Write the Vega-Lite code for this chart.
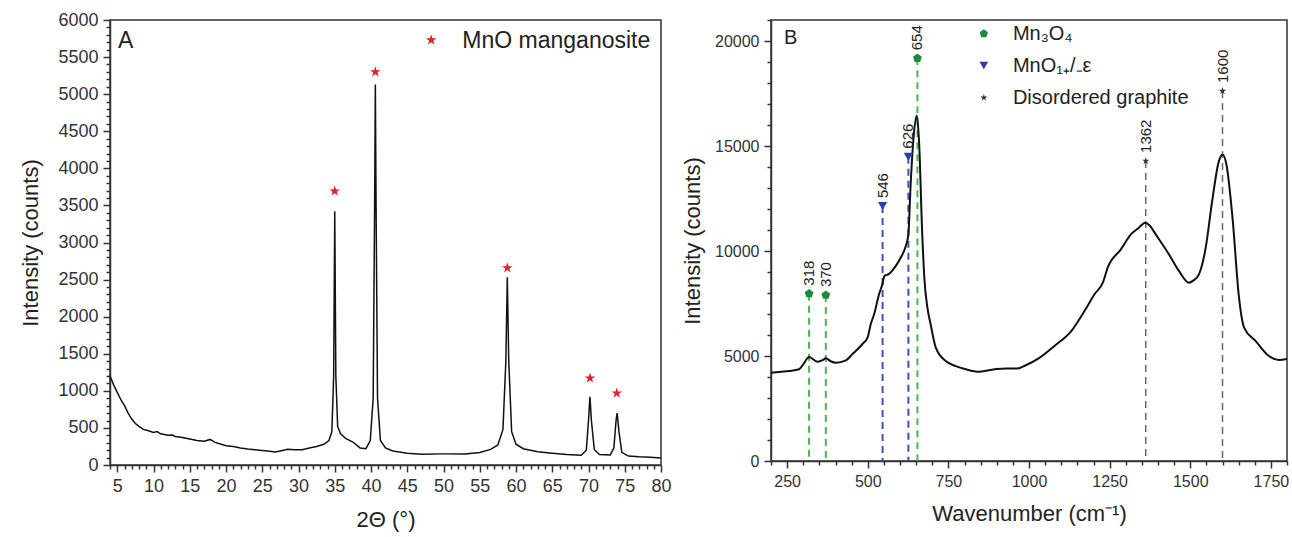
{
  "$schema": "https://vega.github.io/schema/vega-lite/v6.json",
  "background": "white",
  "padding": {"left": 19, "top": 10, "right": 4, "bottom": 5},
  "spacing": 8,
  "config": {
    "font": "Liberation Sans",
    "view": {"stroke": "#333", "strokeWidth": 1.5},
    "axis": {"grid": false, "domainColor": "#333", "domainWidth": 1.5, "tickColor": "#333", "tickWidth": 1.5, "labelColor": "#333", "titleColor": "#222", "titleFontWeight": "normal", "labelOverlap": false, "labelFlush": false}
  },
  "datasets": {
    "xrd": [
      {"t": 4.0, "i": 1200}, {"t": 4.5, "i": 1080}, {"t": 5.0, "i": 980}, {"t": 5.5, "i": 880}, {"t": 6.0, "i": 800}, {"t": 6.5, "i": 700}, {"t": 7.0, "i": 620}, {"t": 7.5, "i": 560}, {"t": 8.0, "i": 520}, {"t": 8.6, "i": 480}, {"t": 9.2, "i": 465}, {"t": 10.0, "i": 440}, {"t": 10.5, "i": 450}, {"t": 11.0, "i": 420}, {"t": 12.0, "i": 400}, {"t": 12.6, "i": 405}, {"t": 13.0, "i": 385}, {"t": 14.0, "i": 370}, {"t": 15.0, "i": 350}, {"t": 16.0, "i": 330}, {"t": 17.0, "i": 320}, {"t": 17.8, "i": 345}, {"t": 18.5, "i": 305}, {"t": 19.0, "i": 290}, {"t": 20.0, "i": 260}, {"t": 21.0, "i": 250}, {"t": 22.0, "i": 230}, {"t": 23.0, "i": 215}, {"t": 24.0, "i": 205}, {"t": 25.0, "i": 195}, {"t": 26.0, "i": 185}, {"t": 26.8, "i": 175}, {"t": 27.5, "i": 190}, {"t": 28.5, "i": 212}, {"t": 29.5, "i": 205}, {"t": 30.5, "i": 205}, {"t": 31.5, "i": 230}, {"t": 32.5, "i": 250}, {"t": 33.5, "i": 280}, {"t": 34.2, "i": 330}, {"t": 34.6, "i": 450}, {"t": 34.85, "i": 1200}, {"t": 35.0, "i": 3420}, {"t": 35.15, "i": 1200}, {"t": 35.4, "i": 520}, {"t": 35.8, "i": 420}, {"t": 36.5, "i": 360}, {"t": 37.5, "i": 310}, {"t": 38.5, "i": 230}, {"t": 39.3, "i": 220}, {"t": 39.9, "i": 330}, {"t": 40.3, "i": 900}, {"t": 40.5, "i": 3500}, {"t": 40.6, "i": 5130}, {"t": 40.7, "i": 3500}, {"t": 40.9, "i": 900}, {"t": 41.3, "i": 330}, {"t": 42.0, "i": 230}, {"t": 43.0, "i": 190}, {"t": 45.0, "i": 160}, {"t": 47.0, "i": 145}, {"t": 50.0, "i": 150}, {"t": 53.0, "i": 150}, {"t": 55.0, "i": 170}, {"t": 56.5, "i": 210}, {"t": 57.5, "i": 270}, {"t": 58.2, "i": 480}, {"t": 58.6, "i": 1400}, {"t": 58.8, "i": 2530}, {"t": 59.0, "i": 1400}, {"t": 59.4, "i": 450}, {"t": 60.0, "i": 280}, {"t": 61.0, "i": 220}, {"t": 63.0, "i": 180}, {"t": 65.0, "i": 160}, {"t": 67.0, "i": 140}, {"t": 69.0, "i": 130}, {"t": 69.7, "i": 200}, {"t": 70.0, "i": 600}, {"t": 70.2, "i": 920}, {"t": 70.4, "i": 600}, {"t": 70.8, "i": 210}, {"t": 71.5, "i": 140}, {"t": 73.0, "i": 135}, {"t": 73.5, "i": 230}, {"t": 73.8, "i": 600}, {"t": 73.95, "i": 700}, {"t": 74.2, "i": 450}, {"t": 74.6, "i": 170}, {"t": 75.5, "i": 120}, {"t": 77.0, "i": 110}, {"t": 78.5, "i": 105}, {"t": 80.0, "i": 95}
    ],
    "xrdStars": [
      {"t": 35.0, "i": 3693}, {"t": 40.6, "i": 5300}, {"t": 58.8, "i": 2658}, {"t": 70.2, "i": 1171}, {"t": 73.9, "i": 969}, {"t": 48.3, "i": 5730}
    ],
    "xrdText": [
      {"t": 5.1, "i": 5720, "label": "A"},
      {"t": 52.6, "i": 5720, "label": "MnO manganosite"}
    ],
    "raman": [
      {"w": 200, "y": 4200}, {"w": 230, "y": 4250}, {"w": 256, "y": 4290}, {"w": 287, "y": 4370}, {"w": 300, "y": 4600}, {"w": 318, "y": 4950}, {"w": 330, "y": 4850}, {"w": 344, "y": 4730}, {"w": 360, "y": 4800}, {"w": 370, "y": 4890}, {"w": 385, "y": 4750}, {"w": 401, "y": 4680}, {"w": 432, "y": 4790}, {"w": 452, "y": 5080}, {"w": 483, "y": 5560}, {"w": 500, "y": 5900}, {"w": 509, "y": 6500}, {"w": 520, "y": 7000}, {"w": 535, "y": 7940}, {"w": 545, "y": 8400}, {"w": 552, "y": 8810}, {"w": 565, "y": 8900}, {"w": 587, "y": 9290}, {"w": 602, "y": 9680}, {"w": 618, "y": 10240}, {"w": 626, "y": 10790}, {"w": 633, "y": 13170}, {"w": 643, "y": 15560}, {"w": 652, "y": 16450}, {"w": 659, "y": 15240}, {"w": 669, "y": 10790}, {"w": 676, "y": 8600}, {"w": 685, "y": 7300}, {"w": 695, "y": 6510}, {"w": 711, "y": 5400}, {"w": 742, "y": 4760}, {"w": 773, "y": 4520}, {"w": 804, "y": 4370}, {"w": 845, "y": 4250}, {"w": 876, "y": 4320}, {"w": 900, "y": 4380}, {"w": 928, "y": 4410}, {"w": 964, "y": 4400}, {"w": 990, "y": 4560}, {"w": 1031, "y": 4900}, {"w": 1079, "y": 5480}, {"w": 1131, "y": 6190}, {"w": 1172, "y": 7140}, {"w": 1203, "y": 7940}, {"w": 1229, "y": 8490}, {"w": 1244, "y": 9210}, {"w": 1285, "y": 10080}, {"w": 1316, "y": 10790}, {"w": 1340, "y": 11100}, {"w": 1360, "y": 11350}, {"w": 1375, "y": 11200}, {"w": 1393, "y": 10790}, {"w": 1434, "y": 9840}, {"w": 1465, "y": 9050}, {"w": 1496, "y": 8490}, {"w": 1510, "y": 8600}, {"w": 1527, "y": 8890}, {"w": 1548, "y": 10160}, {"w": 1568, "y": 12380}, {"w": 1589, "y": 14290}, {"w": 1600, "y": 14600}, {"w": 1612, "y": 14130}, {"w": 1631, "y": 11590}, {"w": 1651, "y": 7800}, {"w": 1667, "y": 6350}, {"w": 1703, "y": 5710}, {"w": 1744, "y": 5000}, {"w": 1775, "y": 4810}, {"w": 1800, "y": 4860}
    ],
    "mn3o4": [{"w": 318, "y": 7970}, {"w": 370, "y": 7900}, {"w": 654, "y": 19180}],
    "mno": [{"w": 546, "y": 12140}, {"w": 626, "y": 14490}],
    "graphite": [{"w": 1362, "y": 14290}, {"w": 1600, "y": 17620}],
    "peakLabels": [{"w": 318, "y": 7970}, {"w": 370, "y": 7900}, {"w": 654, "y": 19180}, {"w": 546, "y": 12140}, {"w": 626, "y": 14490}, {"w": 1362, "y": 14290}, {"w": 1600, "y": 17620}],
    "legMn3o4": [{"w": 860, "y": 20350}],
    "legMno": [{"w": 860, "y": 18830}],
    "legGraphite": [{"w": 860, "y": 17300}],
    "legText": [
      {"w": 950, "y": 20350, "label": "Mn₃O₄"},
      {"w": 950, "y": 18830, "label": "MnO₁₊/₋ε"},
      {"w": 950, "y": 17300, "label": "Disordered graphite"},
      {"w": 240, "y": 20150, "label": "B"}
    ]
  },
  "hconcat": [
    {
      "width": 551,
      "height": 445,
      "encoding": {
        "x": {"field": "t", "type": "quantitative", "scale": {"domain": [4, 80], "nice": false, "zero": false},
              "axis": {"values": [4,5,6,7,8,9,10,11,12,13,14,15,16,17,18,19,20,21,22,23,24,25,26,27,28,29,30,31,32,33,34,35,36,37,38,39,40,41,42,43,44,45,46,47,48,49,50,51,52,53,54,55,56,57,58,59,60,61,62,63,64,65,66,67,68,69,70,71,72,73,74,75,76,77,78,79,80],
                       "labelExpr": "datum.value % 5 === 0 ? datum.label : ''",
                       "labelOverlap": false,
                       "tickSize": {"condition": {"test": "datum.value % 5 === 0", "value": 7}, "value": 4},
                       "labelFontSize": 18, "labelPadding": 5, "title": "2Θ (°)", "titleFontSize": 22, "titlePadding": 14}},
        "y": {"field": "i", "type": "quantitative", "scale": {"domain": [0, 6000], "nice": false},
              "axis": {"values": [0,100,200,300,400,500,600,700,800,900,1000,1100,1200,1300,1400,1500,1600,1700,1800,1900,2000,2100,2200,2300,2400,2500,2600,2700,2800,2900,3000,3100,3200,3300,3400,3500,3600,3700,3800,3900,4000,4100,4200,4300,4400,4500,4600,4700,4800,4900,5000,5100,5200,5300,5400,5500,5600,5700,5800,5900,6000],
                       "labelExpr": "datum.value % 500 === 0 ? datum.label : ''",
                       "labelOverlap": false,
                       "format": "d",
                       "tickSize": {"condition": {"test": "datum.value % 500 === 0", "value": 7}, "value": 4},
                       "labelFontSize": 18, "labelPadding": 5, "title": "Intensity (counts)", "titleFontSize": 22, "titlePadding": 15}}
      },
      "layer": [
        {
          "data": {"name": "xrd"},
          "mark": {"type": "line", "color": "#111", "strokeWidth": 1.5},
          "encoding": {}
        },
        {
          "data": {"name": "xrdStars"},
          "mark": {"type": "point", "filled": true, "opacity": 1, "size": 125, "shape": "M0,-1L0.225,-0.309L0.951,-0.309L0.363,0.118L0.588,0.809L0,0.382L-0.588,0.809L-0.363,0.118L-0.951,-0.309L-0.225,-0.309Z", "color": "#e3202a"},
          "encoding": {}
        },
        {
          "data": {"name": "xrdText"},
          "mark": {"type": "text", "fontSize": 23, "align": "left", "baseline": "middle", "color": "#222"},
          "encoding": {"text": {"field": "label", "type": "nominal"}}
        }
      ]
    },
    {
      "width": 516,
      "height": 441,
      "encoding": {
        "x": {"field": "w", "type": "quantitative", "scale": {"domain": [200, 1800], "nice": false, "zero": false},
              "axis": {"values": [200,250,300,350,400,450,500,550,600,650,700,750,800,850,900,950,1000,1050,1100,1150,1200,1250,1300,1350,1400,1450,1500,1550,1600,1650,1700,1750,1800],
                       "labelExpr": "datum.value % 250 === 0 ? datum.label : ''",
                       "labelOverlap": false,
                       "format": "d",
                       "tickSize": {"condition": {"test": "datum.value % 250 === 0", "value": 7}, "value": 4},
                       "labelFontSize": 16, "labelPadding": 5, "title": "Wavenumber (cm⁻¹)", "titleFontSize": 22, "titlePadding": 14}},
        "y": {"field": "y", "type": "quantitative", "scale": {"domain": [0, 21000], "nice": false},
              "axis": {"values": [0,1000,2000,3000,4000,5000,6000,7000,8000,9000,10000,11000,12000,13000,14000,15000,16000,17000,18000,19000,20000,21000],
                       "labelExpr": "datum.value % 5000 === 0 ? datum.label : ''",
                       "labelOverlap": false,
                       "format": "d",
                       "tickSize": {"condition": {"test": "datum.value % 5000 === 0", "value": 7}, "value": 4},
                       "labelFontSize": 16, "labelPadding": 5, "title": "Intensity (counts)", "titleFontSize": 22, "titlePadding": 10}}
      },
      "layer": [
        {
          "data": {"name": "mn3o4"},
          "mark": {"type": "rule", "strokeDash": [7, 5], "strokeWidth": 2, "color": "#4cb84f"},
          "encoding": {"y2": {"datum": 0}}
        },
        {
          "data": {"name": "mno"},
          "mark": {"type": "rule", "strokeDash": [7, 5], "strokeWidth": 2, "color": "#3f4fb8"},
          "encoding": {"y2": {"datum": 0}}
        },
        {
          "data": {"name": "graphite"},
          "mark": {"type": "rule", "strokeDash": [7, 5], "strokeWidth": 1.5, "color": "#6a6a6a"},
          "encoding": {"y2": {"datum": 0}}
        },
        {
          "data": {"name": "raman"},
          "mark": {"type": "line", "color": "#111", "strokeWidth": 2, "interpolate": "monotone"},
          "encoding": {}
        },
        {
          "data": {"name": "mn3o4"},
          "mark": {"type": "point", "filled": true, "opacity": 1, "size": 85, "shape": "M0,-1L0.951,-0.309L0.588,0.809L-0.588,0.809L-0.951,-0.309Z", "color": "#1c8a3c"},
          "encoding": {}
        },
        {
          "data": {"name": "legMn3o4"},
          "mark": {"type": "point", "filled": true, "opacity": 1, "size": 75, "shape": "M0,-1L0.951,-0.309L0.588,0.809L-0.588,0.809L-0.951,-0.309Z", "color": "#1c8a3c"},
          "encoding": {}
        },
        {
          "data": {"name": "mno"},
          "mark": {"type": "point", "filled": true, "opacity": 1, "size": 85, "shape": "triangle-down", "color": "#2c3fa8"},
          "encoding": {}
        },
        {
          "data": {"name": "legMno"},
          "mark": {"type": "point", "filled": true, "opacity": 1, "size": 75, "shape": "triangle-down", "color": "#2c3fa8"},
          "encoding": {}
        },
        {
          "data": {"name": "graphite"},
          "mark": {"type": "point", "filled": true, "opacity": 1, "size": 60, "shape": "M0,-1L0.225,-0.309L0.951,-0.309L0.363,0.118L0.588,0.809L0,0.382L-0.588,0.809L-0.363,0.118L-0.951,-0.309L-0.225,-0.309Z", "color": "#333333"},
          "encoding": {}
        },
        {
          "data": {"name": "legGraphite"},
          "mark": {"type": "point", "filled": true, "opacity": 1, "size": 55, "shape": "M0,-1L0.225,-0.309L0.951,-0.309L0.363,0.118L0.588,0.809L0,0.382L-0.588,0.809L-0.363,0.118L-0.951,-0.309L-0.225,-0.309Z", "color": "#333333"},
          "encoding": {}
        },
        {
          "data": {"name": "peakLabels"},
          "mark": {"type": "text", "angle": 270, "align": "left", "baseline": "middle", "dx": 8, "fontSize": 15, "color": "#222"},
          "encoding": {"text": {"field": "w", "type": "quantitative", "format": "d"}}
        },
        {
          "data": {"name": "legText"},
          "mark": {"type": "text", "align": "left", "baseline": "middle", "fontSize": 20, "color": "#222"},
          "encoding": {"text": {"field": "label", "type": "nominal"}}
        }
      ]
    }
  ]
}
